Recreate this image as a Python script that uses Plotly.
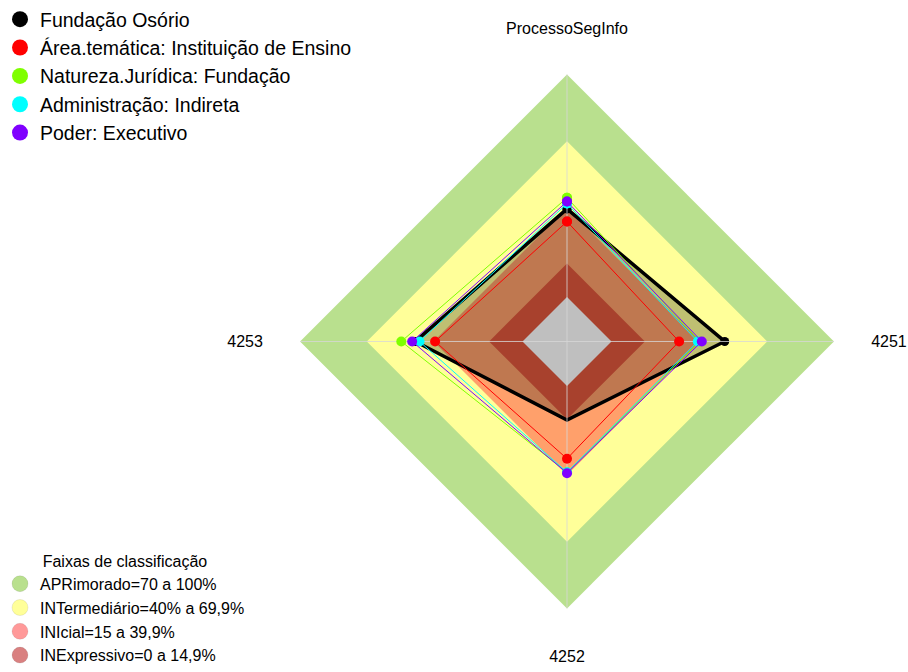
import plotly.graph_objects as go

# eixos do radar
eixos = ["ProcessoSegInfo", "4251", "4252", "4253"]

# series (valores em %)
serie_nomes = ["Fundação Osório",
               "Área.temática: Instituição de Ensino",
               "Natureza.Jurídica: Fundação",
               "Administração: Indireta",
               "Poder: Executivo"]
fundacao_osorio = [39.6, 50.9, 15.3, 48.2]
area_tematica = [33.9, 30.4, 32.7, 39.3]
natureza_juridica = [44.6, 39.7, 38.8, 54.5]
administracao = [42.0, 38.8, 38.8, 46.3]
poder = [42.9, 40.6, 39.2, 49.6]
serie_cores = ["black", "#ff0000", "#7fff00", "#00ffff", "#8000ff"]

# faixas de classificacao
faixa_nomes = ["APRimorado=70 a 100%", "INTermediário=40% a 69,9%",
               "INIcial=15 a 39,9%", "INExpressivo=0 a 14,9%"]
faixa_topo = [100, 70, 40, 15]
faixa_cores = ["#b9e08e", "#ffff99", "#ffa06b", "#e0573c"]
faixa_legenda = ["#b9e08e", "#ffff99", "#ff9999", "#d98080"]

FONT = "Liberation Sans, Arial, sans-serif"


def fechar(v):
    return list(v) + [v[0]]


theta = fechar(eixos)
fig = go.Figure()

# faixas (losangos sobrepostos)
for topo, cor in zip(faixa_topo, faixa_cores):
    fig.add_trace(go.Scatterpolar(r=fechar([topo] * 4), theta=theta, mode="none",
                                  fill="toself", fillcolor=cor,
                                  showlegend=False, hoverinfo="skip"))
fig.add_trace(go.Scatterpolar(r=fechar([0] * 4), theta=theta, mode="none",
                              fill="toself", fillcolor="white",
                              showlegend=False, hoverinfo="skip"))

series = [fundacao_osorio, area_tematica, natureza_juridica, administracao, poder]
for i, (nome, vals, cor) in enumerate(zip(serie_nomes, series, serie_cores)):
    fig.add_trace(go.Scatterpolar(
        r=fechar(vals), theta=theta, mode="lines+markers",
        line=dict(color=cor, width=3.5 if i == 0 else 1),
        marker=dict(color=cor, size=9 if i == 0 else 10),
        fill="toself" if i == 0 else "none",
        fillcolor="rgba(0,0,0,0.25)",
        showlegend=False, name=nome))
    if i == 0:
        # raios do grafico
        for eixo in eixos:
            fig.add_trace(go.Scatterpolar(r=[-20, 100], theta=[eixo, eixo], mode="lines",
                                          line=dict(color="rgba(215,215,215,0.8)", width=1),
                                          showlegend=False, hoverinfo="skip"))

# legendas
for nome, cor in zip(serie_nomes, serie_cores):
    fig.add_trace(go.Scatterpolar(r=[None], theta=[None], mode="markers", name=nome,
                                  marker=dict(color=cor, size=16), legend="legend"))
for nome, cor in zip(faixa_nomes, faixa_legenda):
    fig.add_trace(go.Scatterpolar(r=[None], theta=[None], mode="markers", name=nome,
                                  marker=dict(color=cor, size=16,
                                              line=dict(color="rgba(0,0,0,0.08)", width=1)),
                                  legend="legend2"))

fig.update_layout(
    width=908, height=672,
    margin=dict(l=0, r=0, t=0, b=0),
    paper_bgcolor="white",
    font=dict(family=FONT, color="black"),
    polar=dict(
        domain=dict(x=[0.28855, 0.96035], y=[0.04018, 0.94792]),
        gridshape="linear",
        bgcolor="rgba(0,0,0,0)",
        radialaxis=dict(visible=False, range=[-20, 116.5]),
        angularaxis=dict(type="category", categoryarray=eixos, direction="clockwise",
                         rotation=90, showgrid=False, showline=False, ticks="",
                         tickfont=dict(size=16, color="black")),
    ),
    legend=dict(x=0, y=1.005, xanchor="left", yanchor="top", font=dict(size=19.5),
                bgcolor="rgba(0,0,0,0)"),
    legend2=dict(x=0, y=0, xanchor="left", yanchor="bottom", font=dict(size=16),
                 title=dict(text="Faixas de classificação", side="top center",
                            font=dict(size=16)),
                 bgcolor="rgba(0,0,0,0)"),
)

fig.write_html("out.html", config={"displayModeBar": False},
               post_script="document.body.style.margin='0';")
